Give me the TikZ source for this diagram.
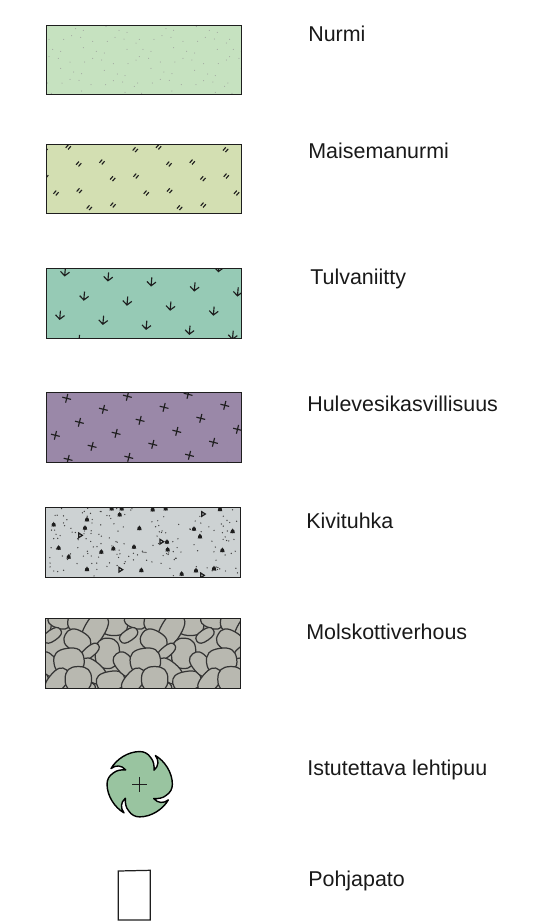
\documentclass[tikz,border=0pt]{standalone}
\usepackage{fontspec}
\setmainfont{Liberation Sans}
\definecolor{nurmicol}{HTML}{C6E2C0}
\definecolor{maisemacol}{HTML}{D3DFB2}
\definecolor{tulvacol}{HTML}{96CAB5}
\definecolor{hulecol}{HTML}{9A88A8}
\definecolor{kivicol}{HTML}{CDD2D3}
\definecolor{molscol}{HTML}{B8B8B0}
\definecolor{puucol}{HTML}{99C4A0}
\definecolor{viiva}{HTML}{1E1E1E}
\tikzset{
    legendtext/.style={anchor=base west,inner sep=0pt,font=\fontsize{12.2}{14}\selectfont,text=black!90},
    legendbox/.style={draw=viiva,line width=0.55pt},
    ink/.style={draw=viiva,line width=0.65pt},
    stone/.style={draw=viiva!90,line width=0.7pt,fill=molscol},
    grassmark/.pic={\draw[ink] (-2.6,0.8) -- (0.2,-2.4) (-0.2,2.4) -- (2.6,-0.8);},
    floodmark/.pic={\draw[ink] (0,-5) -- (0,3.5) (-4.5,-0.5) -- (0,3.5) -- (4.5,-0.5);},
    crossmark/.pic={\draw[ink] (-4.5,0) -- (4.5,0) (0,-4.5) -- (0,4.5);},
    stonemark/.pic={\draw[stone] (1,0) .. controls (1,0.7) and (0.7,1) .. (0,1)
        .. controls (-0.7,1) and (-1,0.7) .. (-1,0)
        .. controls (-1,-0.7) and (-0.7,-1) .. (0,-1)
        .. controls (0.7,-1) and (1,-0.7) .. (1,0) -- cycle;}
}

\begin{document}
\begin{tikzpicture}[x=0.02cm,y=-0.02cm]
\useasboundingbox (0,0) rectangle (552,921);

% Nurmi
\fill[nurmicol] (46,25) rectangle (241,94);
\begin{scope}
\clip (46,25) rectangle (241,94);
\foreach \s in {-1,0,1,2,3}
    \foreach \a/\b in {57/88,101/88,125/77,152/82,160/61,188/94,232/94,255/82,282/87,291/67,318/99,160/113,68/118,92/124,199/124,223/129,291/118,57/140,85/145,120/156,164/156,188/145,215/150,250/161,294/161,318/150,92/175,131/186,155/191,223/181,262/192,285/197,52/219,96/219,120/208,147/211,183/224,227/224,250/212,278/216,313/229,155/243,285/247,64/250,228/50,137/56,267/61}
        \fill[black!40] ({30+\a/3+\s*90.3},{10+\b/3}) circle (0.5);
\end{scope}
\draw[legendbox] (46,25) rectangle (241,94);
\node[legendtext] (nurmi) at (308,41) {Nurmi};

% Maisemanurmi
\fill[maisemacol] (46,144) rectangle (241,213);
\begin{scope}
\clip (46,144) rectangle (241,213);
\foreach \s in {-1,0,1,2}
    \foreach \a/\b in {68.3/147,135.3/149.7,78.7/164,102/162,112.7/178.7,136/176,56/193,79.3/190.7,89.3/207.7,113/205}
        \path ({\a+\s*90.3},\b) pic {grassmark};
\end{scope}
\draw[legendbox] (46,144) rectangle (241,213);
\node[legendtext] (maisemanurmi) at (308,158) {Maisemanurmi};

% Tulvaniitty
\fill[tulvacol] (46,268) rectangle (241,338);
\begin{scope}
\clip (46,268) rectangle (241,338);
\foreach \i in {-4,...,8}
    \foreach \j in {-5,...,5}
        \path ({65+\i*19.1-\j*24.1},{272.3+\i*24.2+\j*19.2}) pic[rotate=-5] {floodmark};
\end{scope}
\draw[legendbox] (46,268) rectangle (241,338);
\node[legendtext] (tulvaniitty) at (310,284) {Tulvaniitty};

% Hulevesikasvillisuus
\fill[hulecol] (46,392) rectangle (241,462);
\begin{scope}
\clip (46,392) rectangle (241,462);
\foreach \i in {-4,...,8}
    \foreach \j in {-5,...,5}
        \path ({66.7+\i*36.7-\j*24},{398.3+\i*11+\j*13}) pic[rotate=-14] {crossmark};
\end{scope}
\draw[legendbox] (46,392) rectangle (241,462);
\node[legendtext] (hulevesi) at (307,411) {Hulevesikasvillisuus};

% Kivituhka
\fill[kivicol] (45,507) rectangle (240,577);
\begin{scope}
\clip (45,507) rectangle (240,577);
\pgfmathsetseed{4127}
\foreach \n in {1,...,170}
    \fill[black!75] ({46+rnd*193},{508+rnd*68}) circle (0.7);
\begin{scope}[shift={(30,495)},scale=1/3]
\foreach \a/\b in {71/88,171/73,269/58,368/43,165/98,328/99,492/101,510/124,608/108,86/158,116/185,214/170,250/160,312/155,413/163,411/140,577/165,171/222,334/225,498/226,552/220,455/236,570/42,407/40,275/40,245/40}
    \fill[viiva] (\a-7,\b+6) -- (\a,\b-8) -- (\a+7,\b+6) -- cycle (\a,\b+1) circle (6);
\foreach \a/\b in {151/121,395/140,520/57,272/224,517/241}
    \draw[ink,line width=0.7pt] (\a-5,\b-7) -- (\a+6,\b) -- (\a-5,\b+7) -- cycle;
\end{scope}
\end{scope}
\draw[legendbox] (45,507) rectangle (240,577);
\node[legendtext] (kivituhka) at (306,528) {Kivituhka};

% Molskottiverhous
\fill[molscol] (45,618) rectangle (240,688);
\begin{scope}
\clip (45,618) rectangle (240,688);
\foreach \s in {-1,0,1,2,3}
    \foreach \a/\b/\c/\d/\r in {210/25/34/28/0,45/15/28/18/-20,105/18/28/26/-10,153/40/44/26/60,100/75/34/26/-30,25/58/25/14/35,14/145/34/22/-50,190/112/30/38/-5,138/107/27/13/40,145/165/38/24/-40,75/135/38/32/8,133/211/18/12/-25,40/195/36/22/50,103/190/33/32/0,200/195/36/24/10}
        \path ({44+(\a+\s*229)/3},{616+\b/3}) pic[rotate=\r,xscale={\c/2.5},yscale={\d/2.5}] {stonemark};
\end{scope}
\draw[legendbox] (45,618) rectangle (240,688);
\node[legendtext] (molskotti) at (306,639) {Molskottiverhous};

% Lehtipuu
\begin{scope}[shift={(139.7,784.2)},scale=1/3]
\draw[fill=puucol,draw=black,line width=0.8pt,line join=round]
    (47,-86) .. controls (75,-70) and (98,-35) .. (98,0)
    .. controls (98,14) and (92,25) .. (80,33)
    .. controls (70,42) and (55,44) .. (42,43)
    .. controls (55,58) and (72,58) .. (86,47)
    .. controls (70,75) and (35,98) .. (0,98)
    .. controls (-14,98) and (-25,92) .. (-33,80)
    .. controls (-42,70) and (-44,55) .. (-43,42)
    .. controls (-58,55) and (-58,72) .. (-47,86)
    .. controls (-75,70) and (-98,35) .. (-98,0)
    .. controls (-98,-14) and (-92,-25) .. (-80,-33)
    .. controls (-70,-42) and (-55,-44) .. (-42,-43)
    .. controls (-55,-58) and (-72,-58) .. (-86,-47)
    .. controls (-70,-75) and (-35,-98) .. (0,-98)
    .. controls (14,-98) and (25,-92) .. (33,-80)
    .. controls (42,-70) and (44,-55) .. (43,-42)
    .. controls (58,-55) and (58,-72) .. (47,-86) -- cycle;
\draw[draw=viiva,line width=0.7pt] (-22,0) -- (22,0) (0,-22) -- (0,22);
\end{scope}
\node[legendtext] (lehtipuu) at (307,775) {Istutettava lehtipuu};

% Pohjapato
\draw[legendbox,line width=0.7pt] (118.3,871) -- (150.3,870.3) -- (150.3,920) -- (118.3,920) -- cycle;
\node[legendtext] (pohjapato) at (308,886.5) {Pohjapato};

\end{tikzpicture}
\end{document}
